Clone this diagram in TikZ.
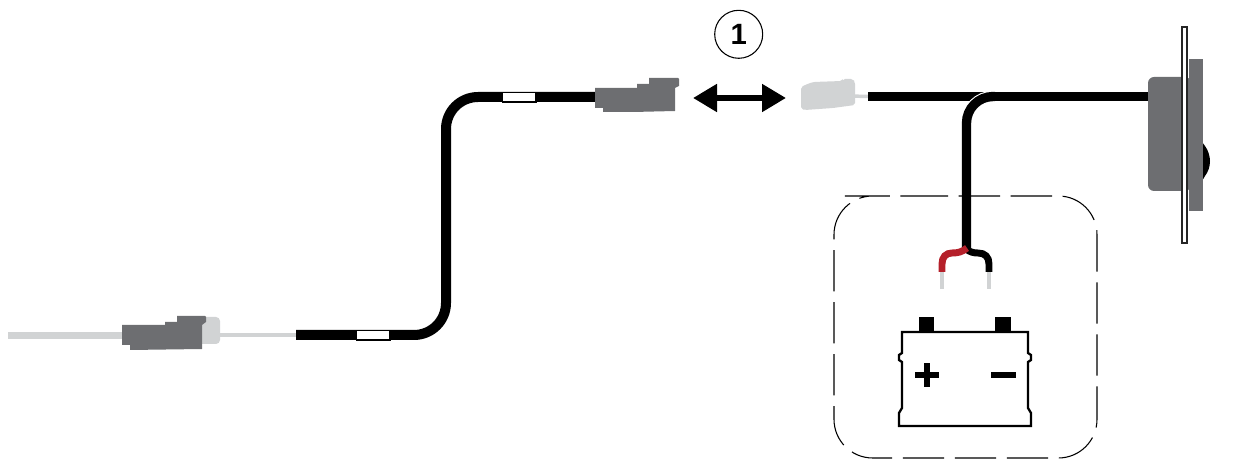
\documentclass[tikz,border=0pt]{standalone}
\usepackage{fontspec}
\setmainfont{Liberation Sans}
\usetikzlibrary{arrows.meta}
\definecolor{housing}{HTML}{6D6E71}
\definecolor{pale}{HTML}{D1D3D4}
\definecolor{wirered}{HTML}{B5202A}
\tikzset{
  x=0.75pt,y=-0.75pt,
  cable/.style={draw=black,line width=7.5pt},
  sleeve/.style={draw=black,fill=white,line width=1pt},
  darkpart/.style={fill=housing,draw=none},
  palepart/.style={fill=pale,draw=none},
  thinwire/.style={draw=pale,line width=2.6pt},
  fatwire/.style={draw=pale,line width=5.5pt},
  lead/.style={line width=5.2pt},
  tiplead/.style={draw=pale,line width=3pt},
  battline/.style={draw=black,line width=1.7pt,line join=miter},
  solid black/.style={fill=black,draw=none},
}
\begin{document}
\begin{tikzpicture}
\useasboundingbox (0,0) rectangle (1240,459);
% named end points
\coordinate (lw0) at (8,335.5);
\coordinate (lw1) at (130,335.5);
\coordinate (tw0) at (215,335);
\coordinate (cA0) at (296,335);
\coordinate (cA1) at (446,335);
\coordinate (cA2) at (446,97);
\coordinate (cA3) at (600,97);
\coordinate (tw2) at (850,96);
\coordinate (cB0) at (868,96.5);
\coordinate (cB1) at (1150,96.5);
\coordinate (cC0) at (966.5,250);
\coordinate (cC1) at (966.5,96.5);
\coordinate (cC2) at (995,96.5);
\coordinate (aL) at (693,98);
\coordinate (aR) at (786,98);
% left plug
\draw[fatwire] (lw0) -- (lw1);
\draw[thinwire] (tw0) -- (cA0);
\fill[palepart,rounded corners=3pt] (198,317) -- (220,317) -- (220,344) -- (198,344) -- cycle;
\fill[darkpart] (122,325) -- (165,325) -- (165,322) -- (177,322) -- (177,316) -- (205,316) -- (206,317) -- (206,322) -- (202,325) -- (202,349) -- (130,350) -- (130,345) -- (122,345) -- cycle;
% long cable
\draw[cable,rounded corners=24pt] (cA0) -- (cA1) -- (cA2) -- (cA3);
\filldraw[sleeve] (356.5,330.5) rectangle (390,340);
\filldraw[sleeve] (502.5,92.5) rectangle (536,102);
% top plug
\fill[darkpart] (595,88) -- (637,88) -- (637,84) -- (649,84) -- (649,78) -- (678,78) -- (679,79) -- (679,86) -- (675,88) -- (675,111) -- (633,112) -- (603,112) -- (603,108) -- (595,108) -- cycle;
% double arrow
\draw[{Triangle[length=18pt,width=20pt]}-{Triangle[length=18pt,width=20pt]},line width=4.4pt] (aL) -- (aR);
% number
\node[circle,draw=black,line width=0.8pt,minimum size=36pt,inner sep=0pt,font=\fontsize{22}{24}\selectfont\bfseries] (num) at (738.7,34.3) {1};
% pale socket
\fill[palepart,rounded corners=1.5pt] (801,87) -- (805,85) -- (813,82) -- (842,81) -- (843,79) -- (853,79) -- (855,82) -- (855,105) -- (833,108) -- (805,110) -- (801,109) -- cycle;
\draw[thinwire] (tw2) -- (cB0);
% right cable
\draw[cable,line width=7pt] (cB0) -- (cB1);
\draw[white,line width=8.6pt,rounded corners=20pt] (cC0) -- (cC1) -- (cC2);
\draw[cable,line width=7pt,rounded corners=20pt] (cC0) -- (cC1) -- (cC2);
\draw[cable,line width=7pt] (cC2) -- (cB1);
% display unit
\fill[black] (1202,142) -- (1205,146) .. controls (1208,150) and (1210,156) .. (1210,161) .. controls (1210,167) and (1208,172) .. (1205,176) -- (1202,181) -- cycle;
\fill[darkpart] (1189,59) rectangle (1203,211);
\fill[darkpart,rounded corners=4.5pt] (1148,77) -- (1191,77) -- (1191,191) -- (1148,191) -- cycle;
\filldraw[draw=black!85,fill=white,line width=0.8pt] (1182,27) rectangle (1187,243);
% dashed frame
\draw[black,line width=0.8pt,dash pattern=on 31pt off 8pt,dash phase=9pt,rounded corners=29pt] (880,196) -- (1097,196) -- (1097,458) -- (834,458) -- (834,196) -- cycle;
\draw[black,line width=5.2pt] (966.5,215) -- (966.5,250);
% leads
\draw[tiplead] (942,270) -- (942,289);
\draw[tiplead] (989,270) -- (989,289);
\draw[lead,black,line cap=butt] (966,249) .. controls (970,252) and (973,253) .. (978,253) .. controls (985,253) and (989,257) .. (989,264) -- (989,272);
\draw[lead,wirered,line cap=butt] (967,248) .. controls (962,252) and (958,253) .. (952,253) .. controls (946,253) and (942,257) .. (942,264) -- (942,272);
% battery
\fill[solid black] (919,317) rectangle (934,332);
\fill[solid black] (995,317) rectangle (1011,332);
\draw[battline] (902,332) -- (1028,332) -- (1028,353) -- (1031,355) -- (1031,360) -- (1028,362) -- (1028,408) -- (1031,413) -- (1031,426) -- (899,426) -- (899,413) -- (902,408) -- (902,362) -- (899,360) -- (899,355) -- (902,353) -- cycle;
\fill[solid black] (914.5,372) rectangle (938.5,378.5);
\fill[solid black] (923.5,363) rectangle (930,387);
\fill[solid black] (991,372) rectangle (1016,378.5);
\end{tikzpicture}
\end{document}
